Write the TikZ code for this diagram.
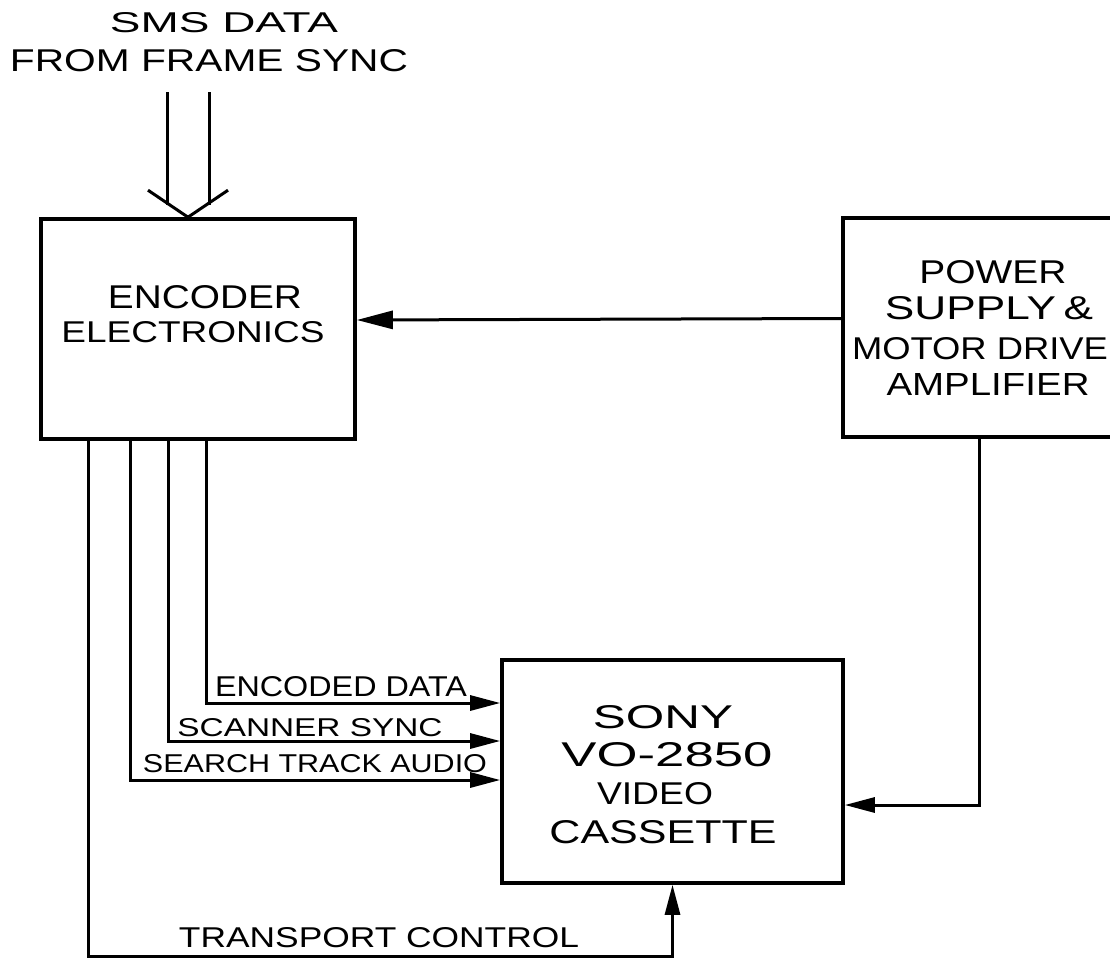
\documentclass[tikz,border=0pt]{standalone}
\usepackage{fontspec}
\setmainfont{Liberation Sans}
\usetikzlibrary{arrows.meta,calc}
\newcommand{\hw}[3]{\resizebox{#1pt}{#2pt}{#3}}
\begin{document}
\begin{tikzpicture}[x=1pt,y=-1pt,
  box/.style={draw, line width=3.6pt, inner sep=0pt},
  conn/.style={line width=3pt, line join=miter},
  arr/.style={conn, -{Triangle[length=30pt,width=15pt]}},
  bigarr/.style={conn, -{Triangle[length=36pt,width=18pt]}},
  txt/.style={inner sep=0pt, anchor=center}]
\useasboundingbox (0,0) rectangle (1110,958);
\clip (0,0) rectangle (1110,958);
\fill[white] (0,0) rectangle (1110,958);

% boxes
\node[box, minimum width=314pt, minimum height=220pt] (enc) at (198,329) {};
\node[box, minimum width=272pt, minimum height=219pt] (pwr) at (979,327.5) {};
\node[box, minimum width=341pt, minimum height=223pt] (sony) at (672.5,771.5) {};

% box texts
\node[txt] (encA) at (205,297) {\hw{194}{23}{ENCODER}};
\node[txt] (encB) at (193,332) {\hw{263}{21}{ELECTRONICS}};
\node[txt] (pwrA) at (993,272) {\hw{147}{23}{POWER}};
\node[txt] (pwrB) at (989,308) {\hw{208}{23}{SUPPLY\,\&}};
\node[txt] (pwrC) at (980,349) {\hw{256}{22}{MOTOR DRIVE}};
\node[txt] (pwrD) at (988,384) {\hw{203}{22}{AMPLIFIER}};
\node[txt] (sonA) at (663,717) {\hw{140}{23}{SONY}};
\node[txt] (sonB) at (667,755) {\hw{211}{24}{VO-2850}};
\node[txt] (sonC) at (655,794) {\hw{116}{22}{VIDEO}};
\node[txt] (sonD) at (663,832) {\hw{227}{23}{CASSETTE}};

% top input
\node[txt] (smsA) at (224,23) {\hw{228}{20}{SMS DATA}};
\node[txt] (smsB) at (209,61) {\hw{398}{22}{FROM FRAME SYNC}};
\coordinate (tip) at ([xshift=-10pt]enc.north);
\coordinate (inL) at (167,92);
\coordinate (inR) at (209,92);
\draw[conn] (inL) -- (inL |- 0,205);
\draw[conn] (inR) -- (inR |- 0,205);
\draw[conn] ($(tip)+(-40,-27)$) -- (tip) -- ($(tip)+(40,-27)$);

% power -> encoder
\draw[bigarr] ([yshift=9pt]pwr.west) -- ([yshift=9pt]enc.east);

% encoder -> sony signals
\draw[arr] ([xshift=8pt]enc.south) |- ([yshift=68.5pt]sony.west);
\draw[arr] ([xshift=-30pt]enc.south) |- ([yshift=30.5pt]sony.west);
\draw[arr] ([xshift=-68pt]enc.south) |- ([yshift=-8.5pt]sony.west);
\draw[arr] ([xshift=-110pt]enc.south) -- ++(0,516) -| (sony.south);

% power -> sony
\draw[arr] (pwr.south) |- ([yshift=-33.5pt]sony.east);

% connector labels
\node[txt] (lEnc) at (341,687) {\hw{252}{20}{ENCODED DATA}};
\node[txt] (lScn) at (310,728) {\hw{265}{18}{SCANNER SYNC}};
\node[txt] (lSrc) at (315,764) {\hw{344}{18}{SEARCH TRACK AUDIO}};
\node[txt] (lTrn) at (379,938) {\hw{400}{20}{TRANSPORT CONTROL}};
\end{tikzpicture}
\end{document}
